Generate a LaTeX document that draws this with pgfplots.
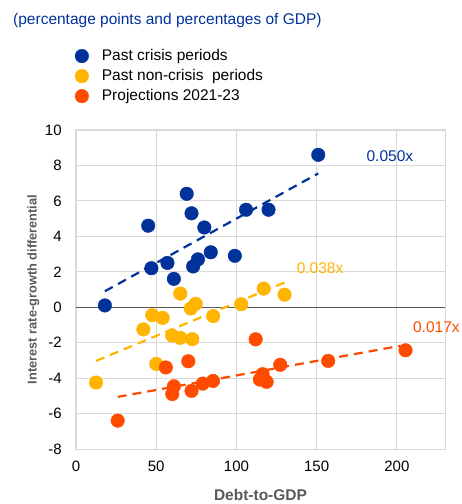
\documentclass[border=0pt]{standalone}
\usepackage{fontspec}
\setmainfont{Liberation Sans}
\usepackage{pgfplots}
\pgfplotsset{compat=1.18}

\definecolor{ecbblue}{RGB}{0,50,153}
\definecolor{ecbyellow}{RGB}{255,180,0}
\definecolor{ecborange}{RGB}{255,75,0}
\definecolor{gridgray}{RGB}{217,217,217}
\definecolor{labelgray}{RGB}{89,89,89}

\begin{document}
\fontsize{15.5}{18}\selectfont
\begin{tikzpicture}
\begin{axis}[
  at={(0pt,0pt)}, anchor=south west,
  scale only axis,
  width=369pt, height=319pt,
  xmin=0, xmax=230, ymin=-8, ymax=10,
  xtick={0,50,100,150,200},
  ytick={-8,-6,-4,-2,0,2,4,6,8,10},
  major tick length=0pt,
  grid=major,
  grid style={gridgray, line width=0.9pt},
  axis line style={gridgray, line width=1pt},
  tick label style={font=\fontsize{15}{17}\selectfont, /pgf/number format/assume math mode=true},
  yticklabel style={xshift=-9pt},
  xticklabel style={yshift=-7pt},
  xlabel={\textbf{Debt-to-GDP}},
  ylabel={\textbf{Interest rate-growth differential}},
  xlabel style={font=\fontsize{15.5}{18}\selectfont, text=labelgray, yshift=-7pt},
  ylabel style={font=\fontsize{12.8}{15}\selectfont, text=labelgray, yshift=-5pt},
  clip=false,
  legend style={at={(-0.003,1.169)}, anchor=west, draw=none, fill=none,
    font=\fontsize{15.5}{18}\selectfont, row sep=2.5pt, inner sep=0pt},
  legend cell align=left,
  legend image code/.code={\draw[#1] plot coordinates {(0pt,0pt)};
    \path[draw=none, fill=none] (0pt,0pt) -- (18pt,0pt);},
]
% past crisis periods
\addplot[only marks, mark=*, mark size=6.8pt, color=ecbblue] coordinates {
(18,0.1) (45,4.6) (47,2.2) (57,2.5) (61,1.6) (69,6.4) (72,5.3) (80,4.5)
(73,2.3) (76,2.7) (84,3.1) (99,2.9) (106,5.5) (120,5.5) (151,8.6)};
\addlegendentry{Past crisis periods}
% past non-crisis periods
\addplot[only marks, mark=*, mark size=6.8pt, color=ecbyellow] coordinates {
(12.5,-4.25) (42,-1.25) (47.5,-0.45) (54,-0.6) (50,-3.2) (60,-1.6) (65,-1.73)
(72.5,-1.8) (65,0.77) (74.6,0.19) (71.5,-0.07) (85.5,-0.5) (103,0.17) (117,1.05) (130,0.71)};
\addlegendentry{Past non-crisis\ \ periods}
% projections 2021-23
\addplot[only marks, mark=*, mark size=6.8pt, color=ecborange] coordinates {
(26,-6.4) (56,-3.4) (70,-3.05) (61,-4.46) (60,-4.9) (72,-4.72) (79,-4.31)
(85.4,-4.16) (112,-1.81) (116.3,-3.78) (114.6,-4.08) (118.8,-4.21) (127.3,-3.25)
(157.2,-3.03) (205.4,-2.43)};
\addlegendentry{Projections 2021-23}
% zero line
\addplot[labelgray, line width=1.3pt, forget plot] coordinates {(0,0) (230,0)};
% linear trends
\addplot[ecbblue, line width=2.2pt, dash pattern=on 9pt off 6pt, forget plot]
  coordinates {(18,0.9) (151,7.55)};
\addplot[ecbyellow, line width=2.2pt, dash pattern=on 9pt off 6pt, forget plot]
  coordinates {(12.5,-3.03) (130,1.39)};
\addplot[ecborange, line width=2.2pt, dash pattern=on 9pt off 6pt, forget plot]
  coordinates {(26,-5.06) (202,-2.18)};
\node[anchor=west, inner sep=0pt, text=ecbblue] at (axis cs:181,8.5) {0.050x};
\node[anchor=west, inner sep=0pt, text=ecbyellow] at (axis cs:137.5,2.2) {0.038x};
\node[anchor=west, inner sep=0pt, text=ecborange] at (axis cs:210,-1.1) {0.017x};
\end{axis}
\node[anchor=west, inner sep=0pt, text=ecbblue] at (-63pt,429pt)
  {(percentage points and percentages of GDP)};
\pgfresetboundingbox
\useasboundingbox (-76pt,-55pt) rectangle (386pt,449pt);
\end{tikzpicture}
\end{document}
